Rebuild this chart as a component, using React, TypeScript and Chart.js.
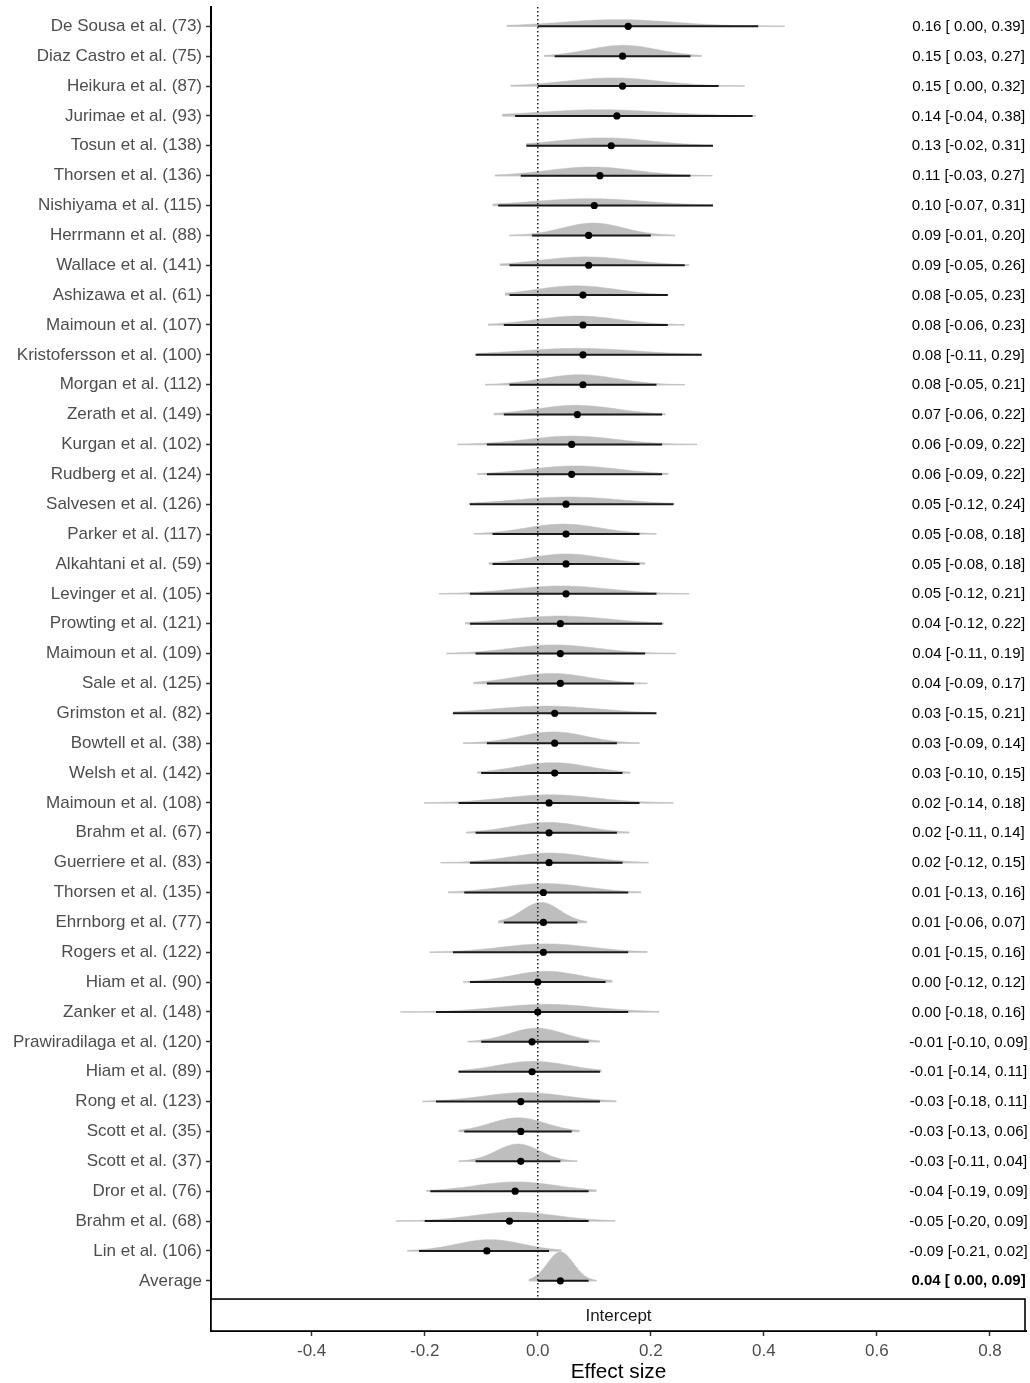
import React, { useEffect, useRef } from 'react';
import { Chart, registerables } from 'chart.js';

Chart.register(...registerables);

// ---------------- DATA ----------------
const studyLabels: string[] = [
  'De Sousa et al. (73)', 'Diaz Castro et al. (75)', 'Heikura et al. (87)', 'Jurimae et al. (93)',
  'Tosun et al. (138)', 'Thorsen et al. (136)', 'Nishiyama et al. (115)', 'Herrmann et al. (88)',
  'Wallace et al. (141)', 'Ashizawa et al. (61)', 'Maimoun et al. (107)', 'Kristofersson et al. (100)',
  'Morgan et al. (112)', 'Zerath et al. (149)', 'Kurgan et al. (102)', 'Rudberg et al. (124)',
  'Salvesen et al. (126)', 'Parker et al. (117)', 'Alkahtani et al. (59)', 'Levinger et al. (105)',
  'Prowting et al. (121)', 'Maimoun et al. (109)', 'Sale et al. (125)', 'Grimston et al. (82)',
  'Bowtell et al. (38)', 'Welsh et al. (142)', 'Maimoun et al. (108)', 'Brahm et al. (67)',
  'Guerriere et al. (83)', 'Thorsen et al. (135)', 'Ehrnborg et al. (77)', 'Rogers et al. (122)',
  'Hiam et al. (90)', 'Zanker et al. (148)', 'Prawiradilaga et al. (120)', 'Hiam et al. (89)',
  'Rong et al. (123)', 'Scott et al. (35)', 'Scott et al. (37)', 'Dror et al. (76)',
  'Brahm et al. (68)', 'Lin et al. (106)', 'Average',
];

const estimates: number[] = [
  0.16, 0.15, 0.15, 0.14, 0.13, 0.11, 0.10, 0.09, 0.09, 0.08, 0.08, 0.08, 0.08, 0.07, 0.06, 0.06,
  0.05, 0.05, 0.05, 0.05, 0.04, 0.04, 0.04, 0.03, 0.03, 0.03, 0.02, 0.02, 0.02, 0.01, 0.01, 0.01,
  0.00, 0.00, -0.01, -0.01, -0.03, -0.03, -0.03, -0.04, -0.05, -0.09, 0.04,
];

const ciLower: number[] = [
  0.00, 0.03, 0.00, -0.04, -0.02, -0.03, -0.07, -0.01, -0.05, -0.05, -0.06, -0.11, -0.05, -0.06, -0.09, -0.09,
  -0.12, -0.08, -0.08, -0.12, -0.12, -0.11, -0.09, -0.15, -0.09, -0.10, -0.14, -0.11, -0.12, -0.13, -0.06, -0.15,
  -0.12, -0.18, -0.10, -0.14, -0.18, -0.13, -0.11, -0.19, -0.20, -0.21, 0.00,
];

const ciUpper: number[] = [
  0.39, 0.27, 0.32, 0.38, 0.31, 0.27, 0.31, 0.20, 0.26, 0.23, 0.23, 0.29, 0.21, 0.22, 0.22, 0.22,
  0.24, 0.18, 0.18, 0.21, 0.22, 0.19, 0.17, 0.21, 0.14, 0.15, 0.18, 0.14, 0.15, 0.16, 0.07, 0.16,
  0.12, 0.16, 0.09, 0.11, 0.11, 0.06, 0.04, 0.09, 0.09, 0.02, 0.09,
];

// thin grey interval (posterior range)
const rangeLower: number[] = [
  -0.055, 0.011, -0.048, -0.063, -0.021, -0.076, -0.08, -0.05, -0.067, -0.058, -0.088, -0.107, -0.093, -0.078, -0.142, -0.107,
  -0.122, -0.113, -0.087, -0.175, -0.129, -0.162, -0.114, -0.15, -0.132, -0.107, -0.201, -0.127, -0.172, -0.159, -0.07, -0.191,
  -0.132, -0.243, -0.124, -0.141, -0.204, -0.14, -0.14, -0.197, -0.251, -0.231, -0.016,
];

const rangeUpper: number[] = [
  0.437, 0.29, 0.366, 0.386, 0.31, 0.309, 0.31, 0.243, 0.268, 0.231, 0.26, 0.29, 0.26, 0.226, 0.282, 0.231,
  0.242, 0.21, 0.19, 0.268, 0.223, 0.245, 0.194, 0.204, 0.18, 0.164, 0.24, 0.162, 0.196, 0.183, 0.087, 0.194,
  0.132, 0.215, 0.11, 0.113, 0.139, 0.074, 0.07, 0.104, 0.137, 0.042, 0.104,
];

// mode of each posterior density
const densityMode: number[] = [
  0.142, 0.151, 0.133, 0.111, 0.116, 0.095, 0.092, 0.098, 0.085, 0.068, 0.071, 0.071, 0.074, 0.068, 0.06, 0.065,
  0.054, 0.045, 0.051, 0.042, 0.039, 0.03, 0.024, 0.015, 0.027, 0.027, 0.021, 0.018, 0.021, 0.012, 0.006, 0.015,
  0.015, 0.015, -0.002, -0.008, -0.023, -0.035, -0.035, -0.038, -0.041, -0.085, 0.04,
];

const xTickValues: number[] = [-0.4, -0.2, 0.0, 0.2, 0.4, 0.6, 0.8];
const textColumnX = 0.762;

// ---------------- LAYOUT CONSTANTS ----------------
const W = 1030;
const H = 1383;
const X_MIN = -0.578;
const X_MAX = 0.8637;
const Y_MIN = -0.646;
const Y_MAX = 43.68;
const PANEL_BOTTOM_ROW = 42.61;
const PX_PER_ROW = 29.87;
const FONT = '"Liberation Sans", Arial, Helvetica, sans-serif';

function fmt(v: number): string {
  return v.toFixed(2);
}
function intervalText(i: number): string {
  const lo = ciLower[i];
  return `${fmt(estimates[i])} [${lo >= 0 ? ' ' : ''}${fmt(lo)}, ${fmt(ciUpper[i])}]`;
}

function densityPoints(i: number) {
  const sd = (ciUpper[i] - ciLower[i]) / 3.92;
  const peakRows = 2.6 / (ciUpper[i] - ciLower[i]) / PX_PER_ROW;
  const pts: { x: number; y: number }[] = [];
  const n = 90;
  for (let k = 0; k <= n; k++) {
    const x = rangeLower[i] + ((rangeUpper[i] - rangeLower[i]) * k) / n;
    const z = (x - densityMode[i]) / sd;
    pts.push({ x, y: i - peakRows * Math.exp(-0.5 * z * z) });
  }
  return pts;
}

const annotationPlugin = {
  id: 'forestAnnotations',
  afterDraw(chart: any) {
    const { ctx, chartArea, scales } = chart;
    const xs = scales.x;
    const ys = scales.y;
    ctx.save();
    // right-hand text column
    ctx.fillStyle = '#000000';
    ctx.textAlign = 'center';
    ctx.textBaseline = 'middle';
    const tx = xs.getPixelForValue(textColumnX);
    studyLabels.forEach((_, i) => {
      const bold = i === studyLabels.length - 1;
      ctx.font = `${bold ? 'bold ' : ''}15px ${FONT}`;
      ctx.fillText(intervalText(i), tx, ys.getPixelForValue(i) + 0.5);
    });
    // facet strip
    const stripTop = ys.getPixelForValue(PANEL_BOTTOM_ROW);
    const stripBottom = chartArea.bottom;
    ctx.fillStyle = '#FFFFFF';
    ctx.fillRect(chartArea.left, stripTop, chartArea.right - chartArea.left, stripBottom - stripTop);
    ctx.strokeStyle = '#000000';
    ctx.lineWidth = 1.6;
    ctx.strokeRect(chartArea.left, stripTop, chartArea.right - chartArea.left - 1, stripBottom - stripTop);
    ctx.fillStyle = '#1A1A1A';
    ctx.font = `17px ${FONT}`;
    ctx.fillText('Intercept', (chartArea.left + chartArea.right) / 2, (stripTop + stripBottom) / 2 + 1);
    // x-axis title
    ctx.fillStyle = '#000000';
    ctx.font = `20.8px ${FONT}`;
    ctx.fillText('Effect size', (chartArea.left + chartArea.right) / 2, 1372);
    ctx.restore();
  },
};

export default function App() {
  const canvasRef = useRef<HTMLCanvasElement | null>(null);

  useEffect(() => {
    document.body.style.margin = '0';
    const canvas = canvasRef.current;
    if (!canvas) return;

    const datasets: any[] = [];
    const n = studyLabels.length;

    // thin grey ranges (bottom)
    for (let i = 0; i < n; i++) {
      datasets.push({
        type: 'line',
        data: [{ x: rangeLower[i], y: i }, { x: rangeUpper[i], y: i }],
        borderColor: '#CFCFCF',
        borderWidth: 1.5,
        pointRadius: 0,
        fill: false,
        order: 4,
      });
    }
    // densities
    for (let i = 0; i < n; i++) {
      datasets.push({
        type: 'line',
        data: densityPoints(i),
        borderColor: '#BEBEBE',
        backgroundColor: '#BEBEBE',
        borderWidth: 0.5,
        pointRadius: 0,
        fill: { value: i },
        order: 3,
      });
    }
    // reference line at 0
    datasets.push({
      type: 'line',
      data: [{ x: 0, y: Y_MIN }, { x: 0, y: PANEL_BOTTOM_ROW }],
      borderColor: '#222222',
      borderWidth: 1.5,
      borderDash: [1.5, 2.5],
      pointRadius: 0,
      fill: false,
      order: 2,
    });
    // black CI lines
    for (let i = 0; i < n; i++) {
      datasets.push({
        type: 'line',
        data: [{ x: ciLower[i], y: i }, { x: ciUpper[i], y: i }],
        borderColor: '#1A1A1A',
        borderWidth: 2,
        pointRadius: 0,
        fill: false,
        order: 1,
      });
    }
    // points
    datasets.push({
      type: 'line',
      data: estimates.map((e, i) => ({ x: e, y: i })),
      showLine: false,
      pointRadius: 3.6,
      pointBackgroundColor: '#000000',
      pointBorderWidth: 0,
      borderColor: '#000000',
      fill: false,
      order: 0,
    });

    const chart = new Chart(canvas, {
      type: 'line',
      data: { datasets },
      plugins: [annotationPlugin],
      options: {
        animation: false,
        responsive: false,
        devicePixelRatio: 1,
        layout: { padding: { top: 7, right: 4, left: 0, bottom: 0 } },
        plugins: {
          legend: { display: false },
          tooltip: { enabled: false },
        },
        events: [],
        scales: {
          x: {
            type: 'linear',
            min: X_MIN,
            max: X_MAX,
            afterBuildTicks: (axis: any) => {
              axis.ticks = xTickValues.map((v) => ({ value: v }));
            },
            afterFit: (axis: any) => {
              axis.height = 52;
              axis.paddingLeft = 0;
              axis.paddingRight = 0;
            },
            ticks: {
              autoSkip: false,
              maxRotation: 0,
              padding: 5,
              color: '#4D4D4D',
              font: { size: 17, family: FONT },
              callback: (v: any) => Number(v).toFixed(1),
            },
            grid: {
              drawOnChartArea: false,
              drawTicks: true,
              tickLength: 5,
              tickColor: '#333333',
              tickWidth: 1.5,
            },
            border: { display: true, color: '#000000', width: 2 },
          },
          y: {
            type: 'linear',
            reverse: true,
            min: Y_MIN,
            max: Y_MAX,
            afterBuildTicks: (axis: any) => {
              axis.ticks = studyLabels.map((_, i) => ({ value: i }));
            },
            afterFit: (axis: any) => {
              axis.width = 211;
              axis.paddingTop = 0;
              axis.paddingBottom = 0;
            },
            ticks: {
              autoSkip: false,
              padding: 4,
              color: '#4D4D4D',
              font: { size: 17, family: FONT },
              callback: (v: any) => studyLabels[Math.round(Number(v))] ?? '',
            },
            grid: {
              drawOnChartArea: false,
              drawTicks: true,
              tickLength: 5,
              tickColor: '#333333',
              tickWidth: 1.5,
            },
            border: { display: true, color: '#000000', width: 2 },
          },
        },
      } as any,
    });

    return () => {
      chart.destroy();
    };
  }, []);

  return (
    <div style={{ position: 'absolute', left: 0, top: 0, width: W, height: H, overflow: 'hidden', background: '#FFFFFF' }}>
      <canvas ref={canvasRef} width={W} height={H} style={{ display: 'block', width: W, height: H }} />
    </div>
  );
}
